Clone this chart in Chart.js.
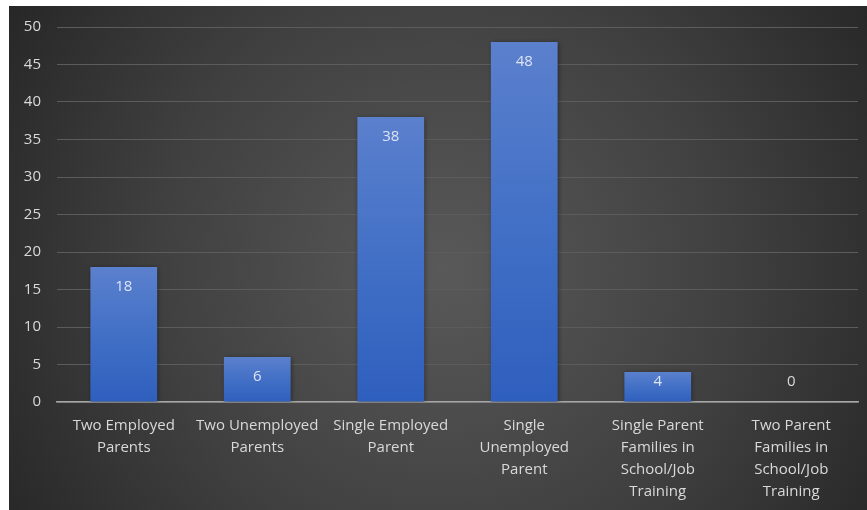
<!DOCTYPE html>
<html>
<head>
<meta charset="utf-8">
<script src="https://cdn.jsdelivr.net/npm/chart.js@4/dist/chart.umd.min.js"></script>
<style>
html,body{margin:0;padding:0;background:#fff;}
#wrap{width:867px;height:510px;position:relative;}
</style>
</head>
<body>
<div id="wrap"><canvas id="c" width="867" height="510"></canvas></div>
<script>
const categories = [
  ["Two Employed", "Parents"],
  ["Two Unemployed", "Parents"],
  ["Single Employed", "Parent"],
  ["Single", "Unemployed", "Parent"],
  ["Single Parent", "Families in", "School/Job", "Training"],
  ["Two Parent", "Families in", "School/Job", "Training"]
];
const values = [18, 6, 38, 48, 4, 0];
const yMin = 0, yMax = 50, yStep = 5;

const FONT = "'Open Sans', 'Noto Sans', sans-serif";

const bgPlugin = {
  id: 'bg',
  beforeDraw(chart) {
    const ctx = chart.ctx;
    ctx.save();
    ctx.fillStyle = '#ffffff';
    ctx.fillRect(0, 0, chart.width, chart.height);
    const x0 = 9, y0 = 6, w = chart.width - x0, h = chart.height - y0;
    const g = ctx.createRadialGradient(445, 270, 0, 445, 270, 520);
    g.addColorStop(0, '#595959');
    g.addColorStop(0.55, '#404040');
    g.addColorStop(1, '#262626');
    ctx.fillStyle = g;
    ctx.fillRect(x0, y0, w, h);
    ctx.restore();
  }
};

const shadowPlugin = {
  id: 'shadow',
  beforeDatasetsDraw(chart) {
    const ctx = chart.ctx;
    ctx.save();
    ctx.shadowColor = 'rgba(0,0,0,0.45)';
    ctx.shadowBlur = 5;
    ctx.shadowOffsetX = 1;
    ctx.shadowOffsetY = 1;
  },
  afterDatasetsDraw(chart) {
    chart.ctx.restore();
  }
};

const labelPlugin = {
  id: 'valueLabels',
  afterDatasetsDraw(chart) {
    const ctx = chart.ctx;
    const meta = chart.getDatasetMeta(0);
    ctx.save();
    ctx.font = "15px " + FONT;
    ctx.textAlign = 'center';
    ctx.textBaseline = 'middle';
    meta.data.forEach((bar, i) => {
      const v = chart.data.datasets[0].data[i];
      const y = Math.min(bar.y + 20, bar.base - 20);
      ctx.fillStyle = v > 0 ? '#dde4f4' : '#d9d9d9';
      ctx.fillText(String(v), bar.x, y);
    });
    ctx.restore();
  }
};

function barGradient(context) {
  const chart = context.chart;
  const { chartArea, scales } = chart;
  if (!chartArea) return '#4472c4';
  const v = context.raw;
  const top = scales.y.getPixelForValue(v);
  const bottom = scales.y.getPixelForValue(0);
  if (bottom - top < 1) return '#3a67c2';
  const g = chart.ctx.createLinearGradient(0, top, 0, bottom);
  g.addColorStop(0, '#5b80cd');
  g.addColorStop(0.5, '#4270c6');
  g.addColorStop(1, '#2f5fbe');
  return g;
}

new Chart(document.getElementById('c'), {
  type: 'bar',
  data: {
    labels: categories,
    datasets: [{
      data: values,
      backgroundColor: barGradient,
      borderWidth: 0,
      barPercentage: 0.5,
      categoryPercentage: 1.0
    }]
  },
  options: {
    responsive: false,
    animation: false,
    devicePixelRatio: 1,
    layout: { padding: { top: 27, left: 9, right: 9, bottom: 0 } },
    plugins: { legend: { display: false }, tooltip: { enabled: false } },
    scales: {
      x: {
        grid: { display: false },
        border: { display: true, color: '#a6a6a6', width: 1.5 },
        ticks: {
          color: '#d9d9d9',
          font: { family: FONT, size: 15, lineHeight: 1.47 },
          padding: 5,
          autoSkip: false,
          maxRotation: 0,
          minRotation: 0
        },
        afterFit(scale) { scale.height = 108; }
      },
      y: {
        min: yMin,
        max: yMax,
        ticks: {
          stepSize: yStep,
          color: '#d9d9d9',
          font: { family: FONT, size: 15 },
          padding: 16
        },
        grid: { color: '#5c5c5c', lineWidth: 1, drawTicks: false },
        border: { display: false },
        afterFit(scale) { scale.width = 48; }
      }
    }
  },
  plugins: [bgPlugin, shadowPlugin, labelPlugin]
});
</script>
</body>
</html>
